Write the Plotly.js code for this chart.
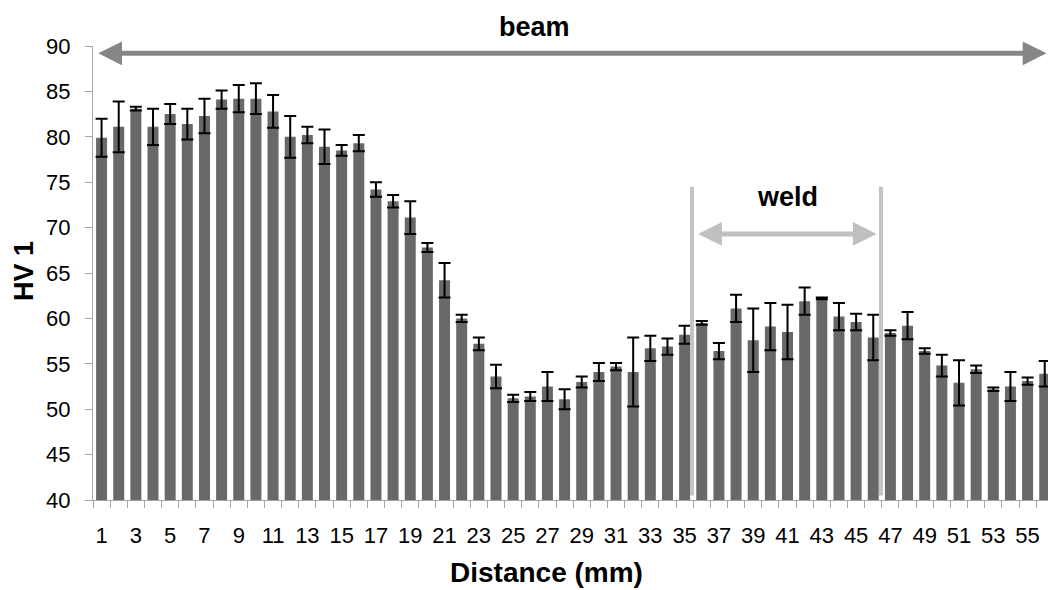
<!DOCTYPE html>
<html>
<head>
<meta charset="utf-8">
<script src="https://cdn.plot.ly/plotly-3.0.1.min.js"></script>
<style>html,body{margin:0;padding:0;background:#fff}#chart{width:1048px;height:590px}</style>
</head>
<body>
<div id="chart"></div>
<script>
// Distance positions (mm)
const distance = [1,2,3,4,5,6,7,8,9,10,11,12,13,14,15,16,17,18,19,20,21,22,23,24,25,26,27,28,29,30,31,32,33,34,35,36,37,38,39,40,41,42,43,44,45,46,47,48,49,50,51,52,53,54,55,56];
// Hardness HV 1 (mean)
const hardness = [79.9,81.1,83.1,81.1,82.5,81.4,82.3,84.1,84.2,84.2,82.8,80.0,80.2,78.9,78.5,79.3,74.2,72.9,71.1,67.8,64.2,60.0,57.2,53.6,51.2,51.4,52.5,51.1,53.0,54.1,54.7,54.1,56.7,56.9,58.2,59.5,56.4,61.1,57.6,59.1,58.5,61.9,62.2,60.2,59.6,57.9,58.4,59.2,56.4,54.8,52.9,54.4,52.2,52.5,53.1,53.9];
// Standard deviation
const stdev = [2.1,2.8,0.2,2.0,1.1,1.7,1.9,1.0,1.5,1.7,1.8,2.3,0.9,1.9,0.6,0.9,0.8,0.7,1.8,0.5,1.9,0.4,0.7,1.3,0.4,0.5,1.6,1.1,0.6,1.0,0.4,3.8,1.4,0.9,1.0,0.2,0.9,1.5,3.5,2.6,3.0,1.5,0.1,1.5,0.9,2.5,0.3,1.5,0.3,1.2,2.5,0.4,0.2,1.6,0.4,1.4];
const xLabels = [1,3,5,7,9,11,13,15,17,19,21,23,25,27,29,31,33,35,37,39,41,43,45,47,49,51,53,55];
const yTicks = [40,45,50,55,60,65,70,75,80,85,90];

const trace = {
  type: 'bar',
  x: distance,
  y: hardness,
  marker: {color: '#686868'},
  error_y: {type: 'data', array: stdev, visible: true, color: '#000000', thickness: 2, width: 6},
  hoverinfo: 'x+y'
};

const tickFont = {family: '"Liberation Sans", Arial, sans-serif', size: 22, color: '#000'};
const boldFam = '"Liberation Sans", Arial, sans-serif';

const layout = {
  width: 1048,
  height: 590,
  margin: {l: 93, r: 0, t: 46, b: 90},
  paper_bgcolor: '#ffffff',
  plot_bgcolor: '#ffffff',
  showlegend: false,
  bargap: 0.36,
  xaxis: {
    range: [0.5, 56.19],
    tickmode: 'array',
    tickvals: xLabels,
    ticktext: xLabels.map(String),
    ticks: '',
    ticklabelstandoff: 16,
    tickfont: tickFont,
    showgrid: false,
    zeroline: false,
    showline: true,
    linecolor: '#a6a6a6',
    linewidth: 1,
    minor: {tick0: 0.5, dtick: 1, ticks: 'outside', ticklen: 7, tickcolor: '#a6a6a6', showgrid: false},
    fixedrange: true
  },
  yaxis: {
    range: [40, 90],
    tickmode: 'array',
    tickvals: yTicks,
    ticktext: yTicks.map(String),
    ticks: 'outside',
    ticklen: 7,
    tickcolor: '#a6a6a6',
    ticklabelstandoff: 10,
    tickfont: tickFont,
    showgrid: false,
    zeroline: false,
    showline: true,
    linecolor: '#a6a6a6',
    linewidth: 1,
    fixedrange: true
  },
  shapes: [
    {type: 'line', xref: 'x', yref: 'y', x0: 35.43, x1: 35.43, y0: 40.5, y1: 74.5, line: {color: '#c4c4c4', width: 4}},
    {type: 'line', xref: 'x', yref: 'y', x0: 46.45, x1: 46.45, y0: 40.5, y1: 74.5, line: {color: '#c4c4c4', width: 4}}
  ],
  annotations: [
    {xref: 'x', yref: 'y', axref: 'x', ayref: 'y', x: 56.1, y: 89.2, ax: 0.72, ay: 89.2, text: '', showarrow: true,
     arrowhead: 2, startarrowhead: 2, arrowside: 'end+start', arrowwidth: 5, arrowsize: 0.95, startarrowsize: 0.95, arrowcolor: '#868686'},
    {xref: 'x', yref: 'y', axref: 'x', ayref: 'y', x: 46.2, y: 69.3, ax: 35.7, ay: 69.3, text: '', showarrow: true,
     arrowhead: 2, startarrowhead: 2, arrowside: 'end+start', arrowwidth: 5, arrowsize: 0.95, startarrowsize: 0.95, arrowcolor: '#c0c0c0'},
    {xref: 'paper', yref: 'paper', x: (534-93)/955, y: 1 + (46-27)/454, text: '<b>beam</b>', showarrow: false,
     font: {family: boldFam, size: 27, color: '#000'}, xanchor: 'center', yanchor: 'middle'},
    {xref: 'paper', yref: 'paper', x: (787-93)/955, y: (500-197)/454, text: '<b>weld</b>', showarrow: false,
     font: {family: boldFam, size: 27, color: '#000'}, xanchor: 'center', yanchor: 'middle'},
    {xref: 'paper', yref: 'paper', x: (546-93)/955, y: -(572-500)/454, text: '<b>Distance (mm)</b>', showarrow: false,
     font: {family: boldFam, size: 28, color: '#000'}, xanchor: 'center', yanchor: 'middle'},
    {xref: 'paper', yref: 'paper', x: -(93-24)/955, y: (500-271)/454, text: '<b>HV 1</b>', showarrow: false, textangle: -90,
     font: {family: boldFam, size: 27, color: '#000'}, xanchor: 'center', yanchor: 'middle'}
  ]
};

Plotly.newPlot('chart', [trace], layout, {displayModeBar: false, staticPlot: true});
</script>
</body>
</html>
